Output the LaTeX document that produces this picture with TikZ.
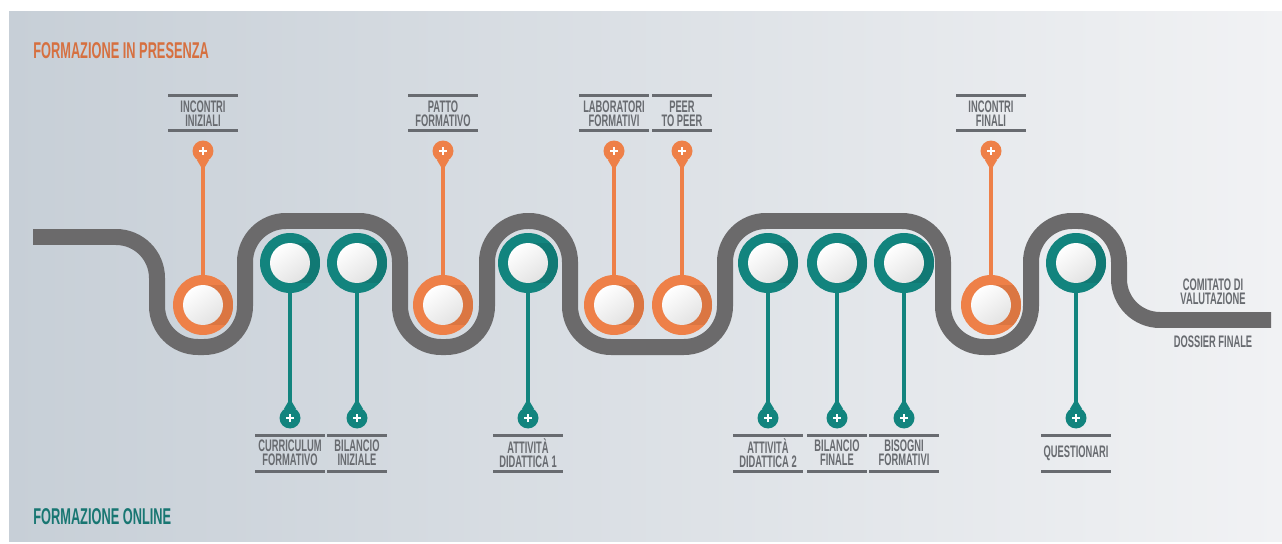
\documentclass[tikz,border=0pt]{standalone}
\usepackage{fontspec}
\newfontfamily\condfont{Liberation Sans}[FakeStretch=0.56]
\usetikzlibrary{positioning,calc}

\definecolor{bgL}{RGB}{199,207,215}
\definecolor{bgR}{RGB}{241,242,244}
\definecolor{roadgray}{RGB}{107,106,107}
\definecolor{ora}{RGB}{238,128,72}
\definecolor{teal}{RGB}{18,132,126}
\definecolor{lblgray}{RGB}{104,107,112}
\definecolor{titleO}{RGB}{214,112,64}
\definecolor{titleT}{RGB}{24,118,114}

\tikzset{
  road/.style = {draw=roadgray, line width=0.32cm, rounded corners=0.82cm},
  ring/.style = {circle, minimum size=1.2cm, inner sep=0pt, fill=#1, path picture={
      \fill[#1!92!black, shift={(path picture bounding box.center)}, rotate=-50] (0,-0.4cm) rectangle (1cm,0.4cm);
      \shade[shift={(path picture bounding box.center)}, top color=white, bottom color=gray!22, shading angle=35] (0,0) circle (0.4cm);
  }},
  pin/.style = {circle, minimum size=0.42cm, inner sep=0pt, fill=#1, path picture={
      \draw[white, line width=0.05cm, shift={(path picture bounding box.center)}] (-0.08cm,0) -- (0.08cm,0) (0,-0.08cm) -- (0,0.08cm);
  }},
  stem/.style = {draw=#1, line width=0.08cm},
  lbl/.style = {font=\condfont\bfseries\fontsize{9.5}{8}\selectfont, text=lblgray, align=center, inner sep=0pt},
  title/.style = {font=\condfont\bfseries\fontsize{13}{13}\selectfont, anchor=west, inner sep=0pt},
  rule/.style = {draw=lblgray, line width=0.06cm},
}

\begin{document}
\begin{tikzpicture}[x=0.02cm, y=-0.02cm]
\useasboundingbox (0,0) rectangle (1282,544);
\fill[white] (0,0) rectangle (1282,544);
\shade[left color=bgL, right color=bgR] (9,12) rectangle (1282,541);

\node[title, text=titleO] (presenza) at (33,51) {FORMAZIONE IN PRESENZA};
\node[title, text=titleT] (online) at (33,517) {FORMAZIONE ONLINE};

% percorso
\draw[road] (33,237) -- (157,237) -- (157,347) -- (245,347) -- (245,221) -- (400,221) -- (400,347)
  -- (487,347) -- (487,221) -- (570,221) -- (570,347) -- (725,347) -- (725,221) -- (943,221)
  -- (943,347) -- (1031,347) -- (1031,221) -- (1119,221) -- (1119,320) -- (1271,320);

% in presenza
\foreach \x/\txt/\w [count=\i] in {203/{INCONTRI\\INIZIALI}/35, 443/{PATTO\\FORMATIVO}/35,
    614/{LABORATORI\\FORMATIVI}/35, 682/{PEER\\TO PEER}/30, 991/{INCONTRI\\FINALI}/35}{
  \node[ring=ora] (o\i) at (\x,305) {};
  \node[pin=ora] (po\i) at (\x,151) {};
  \fill[ora] (po\i.235) -- ($(po\i.south)+(-2,5)$) -- ($(po\i.south)+(2,5)$) -- (po\i.305) -- cycle;
  \draw[stem=ora] (po\i) -- (o\i);
  \node[lbl] (lo\i) at (\x,113.5) {\txt};
  \draw[rule] ($(lo\i.center)+(-\w,-17.5)$) -- ($(lo\i.center)+(\w,-17.5)$);
  \draw[rule] ($(lo\i.center)+(-\w,17.5)$) -- ($(lo\i.center)+(\w,17.5)$);
}

% online
\foreach \x/\txt/\w [count=\i] in {290/{CURRICULUM\\FORMATIVO}/35, 357/{BILANCIO\\INIZIALE}/30,
    528/{ATTIVITÀ\\DIDATTICA 1}/35, 768/{ATTIVITÀ\\DIDATTICA 2}/35, 837/{BILANCIO\\FINALE}/30,
    904/{BISOGNI\\FORMATIVI}/35, 1076/{QUESTIONARI}/35}{
  \node[ring=teal] (t\i) at (\x,263) {};
  \node[pin=teal] (pt\i) at (\x,418) {};
  \fill[teal] (pt\i.125) -- ($(pt\i.north)+(-2,-5)$) -- ($(pt\i.north)+(2,-5)$) -- (pt\i.55) -- cycle;
  \draw[stem=teal] (pt\i) -- (t\i);
  \node[lbl] (lt\i) at (\x,453) {\txt};
  \draw[rule] ($(lt\i.center)+(-\w,-18)$) -- ($(lt\i.center)+(\w,-18)$);
  \draw[rule] ($(lt\i.center)+(-\w,18)$) -- ($(lt\i.center)+(\w,18)$);
}

\node[lbl] (comitato) at (1213,292) {COMITATO DI\\VALUTAZIONE};
\node[lbl] (dossier) at (1213,342) {DOSSIER FINALE};
\end{tikzpicture}
\end{document}
